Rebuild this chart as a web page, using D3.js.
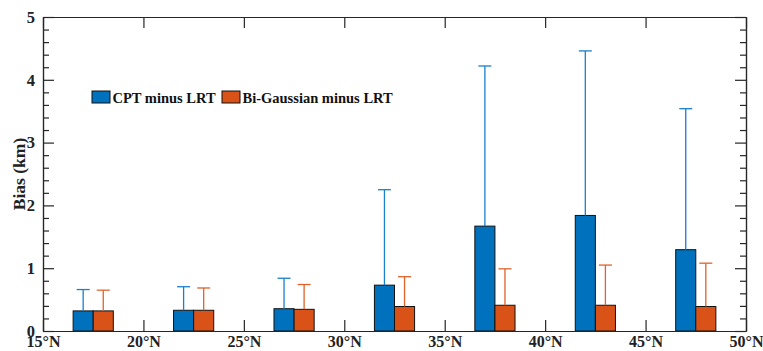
<!DOCTYPE html>
<html><head><meta charset="utf-8">
<script src="https://cdn.jsdelivr.net/npm/d3@7"></script>
<style>body{margin:0;background:#fff}svg{display:block}</style>
</head><body>
<svg id="c" width="763" height="351"></svg>
<script>
const latCenters = [17.5, 22.5, 27.5, 32.5, 37.5, 42.5, 47.5];
const cptBias = [0.32, 0.33, 0.355, 0.73, 1.67, 1.84, 1.295];
const cptErrTop = [0.66, 0.705, 0.84, 2.25, 4.22, 4.46, 3.54];
const bgBias = [0.32, 0.33, 0.345, 0.39, 0.41, 0.41, 0.39];
const bgErrTop = [0.65, 0.685, 0.74, 0.865, 0.99, 1.05, 1.08];
const xTicks = [15, 20, 25, 30, 35, 40, 45, 50];
const yTicks = [0, 1, 2, 3, 4, 5];
const seriesNames = ["CPT minus LRT", "Bi-Gaussian minus LRT"];
const colors = ["#0072BD", "#D95319"];
const errColors = ["#1a7fcc", "#e0622a"];

(function () {
const svg = d3.select("#c");
const L = 43, R = 746, T = 17, B = 331;
const x = d3.scaleLinear().domain([15, 50]).range([L, R]);
const y = d3.scaleLinear().domain([0, 5]).range([B, T]);
const font = "Liberation Serif, DejaVu Serif, serif";
const axisColor = "#262626";

const series = [
  {vals: cptBias, err: cptErrTop, off: -1, col: colors[0], ecol: errColors[0]},
  {vals: bgBias, err: bgErrTop, off: 0, col: colors[1], ecol: errColors[1]}
];

series.forEach(s => {
  svg.append("g").selectAll("rect").data(latCenters).join("rect")
    .attr("x", (d) => x(d + s.off))
    .attr("y", (d, i) => y(s.vals[i]))
    .attr("width", (d) => x(d + s.off + 1) - x(d + s.off))
    .attr("height", (d, i) => y(0) - y(s.vals[i]))
    .attr("fill", s.col).attr("stroke", "#111").attr("stroke-width", 1);
});
series.forEach(s => {
  const g = svg.append("g").attr("stroke", s.ecol).attr("stroke-width", 1.3);
  latCenters.forEach((d, i) => {
    const cx = x(d + s.off + 0.5);
    g.append("line").attr("x1", cx).attr("x2", cx).attr("y1", y(s.vals[i])).attr("y2", y(s.err[i]));
    g.append("line").attr("x1", cx - 6.5).attr("x2", cx + 6.5).attr("y1", y(s.err[i])).attr("y2", y(s.err[i]));
  });
});

const gBottom = svg.append("g").attr("transform", `translate(0,${B})`)
  .call(d3.axisBottom(x).tickValues(xTicks).tickSizeInner(-11).tickSizeOuter(0).tickPadding(12).tickFormat(d => d + "°N"));
svg.append("g").attr("transform", `translate(0,${T})`)
  .call(d3.axisTop(x).tickValues(xTicks).tickSizeInner(-11).tickSizeOuter(0).tickFormat(""));
const minorY = d3.range(0, 5.001, 0.2).filter(v => Math.abs(v - Math.round(v)) > 1e-6);
svg.append("g").attr("transform", `translate(${L},0)`)
  .call(d3.axisLeft(y).tickValues(yTicks).tickSizeInner(-11).tickSizeOuter(0).tickPadding(8).tickFormat(d3.format("d")));
svg.append("g").attr("transform", `translate(${R},0)`)
  .call(d3.axisRight(y).tickValues(yTicks).tickSizeInner(-11).tickSizeOuter(0).tickFormat(""));
svg.append("g").attr("transform", `translate(${L},0)`)
  .call(d3.axisLeft(y).tickValues(minorY).tickSizeInner(-6).tickSizeOuter(0).tickFormat(""));
svg.append("g").attr("transform", `translate(${R},0)`)
  .call(d3.axisRight(y).tickValues(minorY).tickSizeInner(-6).tickSizeOuter(0).tickFormat(""));

svg.selectAll(".domain, .tick line").attr("stroke", axisColor).attr("stroke-width", 1.2);
svg.selectAll(".tick text").attr("fill", "#222").attr("font-family", font).attr("font-weight", "bold").attr("font-size", 16.5);
gBottom.selectAll(".tick text").attr("font-size", 16).attr("dy", "0.28em");

svg.append("text").attr("transform", `translate(19,${(T + B) / 2}) rotate(-90)`)
  .attr("text-anchor", "middle").attr("dy", "0.35em").attr("font-family", font).attr("font-weight", "bold").attr("font-size", 17.5)
  .attr("fill", "#222").text("Bias (km)");

const legX = [92, 222];
seriesNames.forEach((n, i) => {
  svg.append("rect").attr("x", legX[i]).attr("y", 91).attr("width", 18).attr("height", 12)
    .attr("fill", colors[i]).attr("stroke", "#111").attr("stroke-width", 1);
  svg.append("text").attr("x", legX[i] + 20.5).attr("y", 102.5).attr("font-family", font).attr("font-weight", "bold")
    .attr("font-size", 14.5).attr("fill", "#111").text(n);
});
})();
</script>
</body></html>
